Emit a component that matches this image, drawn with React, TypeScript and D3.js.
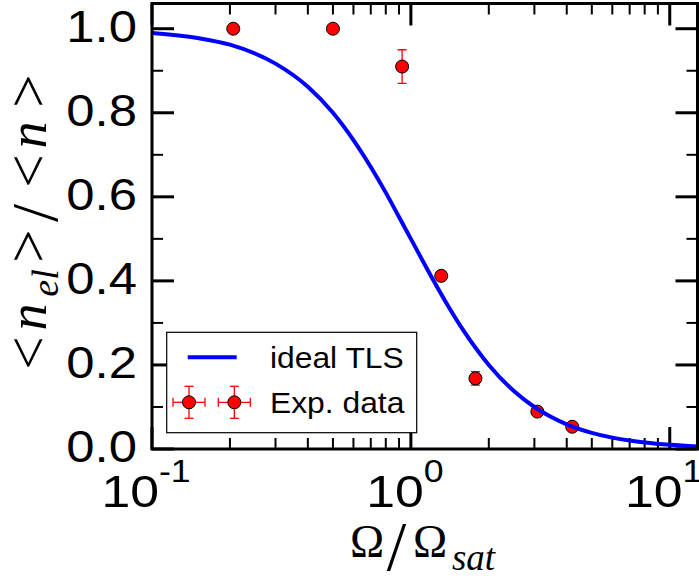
import React from 'react';
import * as d3 from 'd3';

// ideal TLS curve
const tlsX = [0.1, 0.15, 0.2, 0.3, 0.4, 0.5, 0.6, 0.7, 0.8, 0.9, 1.0, 1.2, 1.4, 1.6, 1.8, 2.0, 2.5, 3.0, 3.5, 4.0, 5.0, 6.0, 7.0, 8.0, 10.0, 13.0];
const tlsY = [0.99, 0.978, 0.962, 0.917, 0.862, 0.8, 0.735, 0.671, 0.61, 0.552, 0.5, 0.41, 0.338, 0.281, 0.236, 0.2, 0.138, 0.1, 0.0755, 0.0588, 0.0385, 0.027, 0.02, 0.0154, 0.0099, 0.0059];

// experimental data
const expX = [0.206, 0.5, 0.925, 1.31, 1.776, 3.08, 4.2];
const expY = [1.0, 1.0, 0.91, 0.412, 0.168, 0.089, 0.053];
const expYErr = [0.005, 0.005, 0.04, 0.005, 0.016, 0.005, 0.005];
const expXErr = [0.004, 0.01, 0.02, 0.02, 0.03, 0.05, 0.06];

const yTicks = [0, 0.2, 0.4, 0.6, 0.8, 1.0];
const yTickLabels = ['0.0', '0.2', '0.4', '0.6', '0.8', '1.0'];
const yMinorTicks = [0.1, 0.3, 0.5, 0.7, 0.9];
const xTickExps = [-1, 0, 1];
const xTickLabels = ['-1', '0', '1'];
const legendLabels = ['ideal TLS', 'Exp. data'];

const W = 699;
const H = 576;
const L = 152, R = 697.5, T = 3.5, B = 449;

const SANS = '"Liberation Sans", Arial, Helvetica, sans-serif';
const SERIF = '"Liberation Serif", "Times New Roman", serif';

const BLUE = '#0000ff';
const RED = '#ff0000';

export default function App() {
  const x = d3.scaleLog().domain([0.1, 12.8]).range([L, R]);
  const y = d3.scaleLinear().domain([0, 1.06]).range([B, T]);

  const xMajor = xTickExps.map((e) => Math.pow(10, e));
  const xMinor: number[] = [];
  xTickExps.forEach((e) => {
    for (let k = 2; k <= 9; k++) {
      const v = k * Math.pow(10, e);
      if (v > 0.1 && v < 12.8) xMinor.push(v);
    }
  });

  const line = d3
    .line<number>()
    .x((i) => x(tlsX[i]))
    .y((i) => y(tlsY[i]))
    .curve(d3.curveMonotoneX);
  const curvePath = line(d3.range(tlsX.length)) || '';

  const majorLen = 22;
  const minorLen = 11;

  const ticks: JSX.Element[] = [];
  xMajor.forEach((v, i) => {
    const px = x(v);
    ticks.push(<line key={'xb' + i} x1={px} x2={px} y1={B} y2={B - majorLen} stroke="#000" strokeWidth={3} />);
    ticks.push(<line key={'xt' + i} x1={px} x2={px} y1={T} y2={T + majorLen} stroke="#000" strokeWidth={3} />);
  });
  xMinor.forEach((v, i) => {
    const px = x(v);
    ticks.push(<line key={'xmb' + i} x1={px} x2={px} y1={B} y2={B - minorLen} stroke="#000" strokeWidth={2} />);
    ticks.push(<line key={'xmt' + i} x1={px} x2={px} y1={T} y2={T + minorLen} stroke="#000" strokeWidth={2} />);
  });
  yTicks.forEach((v, i) => {
    const py = y(v);
    ticks.push(<line key={'yl' + i} x1={L} x2={L + majorLen} y1={py} y2={py} stroke="#000" strokeWidth={3} />);
    ticks.push(<line key={'yr' + i} x1={R} x2={R - majorLen} y1={py} y2={py} stroke="#000" strokeWidth={3} />);
  });
  yMinorTicks.forEach((v, i) => {
    const py = y(v);
    ticks.push(<line key={'yml' + i} x1={L} x2={L + minorLen} y1={py} y2={py} stroke="#000" strokeWidth={2} />);
    ticks.push(<line key={'ymr' + i} x1={R} x2={R - minorLen} y1={py} y2={py} stroke="#000" strokeWidth={2} />);
  });

  const cap = 4.5;
  const errorBar = (cx: number, cy: number, x0: number, x1: number, y0: number, y1: number, key: string) => (
    <g key={key} stroke={RED} strokeWidth={1.3} fill="none">
      <line x1={x0} x2={x1} y1={cy} y2={cy} />
      <line x1={x0} x2={x0} y1={cy - cap} y2={cy + cap} />
      <line x1={x1} x2={x1} y1={cy - cap} y2={cy + cap} />
      <line x1={cx} x2={cx} y1={y0} y2={y1} />
      <line x1={cx - cap} x2={cx + cap} y1={y0} y2={y0} />
      <line x1={cx - cap} x2={cx + cap} y1={y1} y2={y1} />
    </g>
  );

  const markerR = 6.5;

  // y-label glyph layout (rotated)
  const yLabelGlyphs = [
    { t: '<', c: 353, b: 47.5, s: 59, it: false, sub: false },
    { t: 'n', c: 317, b: 46, s: 54, it: true, sub: false },
    { t: 'el', c: 283, b: 58, s: 38, it: true, sub: false },
    { t: '>', c: 246, b: 47.5, s: 59, it: false, sub: false },
    { t: '/', c: 213, b: 57, s: 65, it: false, sub: false },
    { t: '<', c: 171, b: 47.5, s: 59, it: false, sub: false },
    { t: 'n', c: 135, b: 46, s: 54, it: true, sub: false },
    { t: '>', c: 91, b: 47.5, s: 59, it: false, sub: false },
  ];

  return (
    <svg
      width={W}
      height={H}
      viewBox={`0 0 ${W} ${H}`}
      style={{ position: 'absolute', left: 0, top: 0, display: 'block', background: '#fff' }}
    >
      <defs>
        <clipPath id="plotClip">
          <rect x={L} y={T} width={R - L} height={B - T} />
        </clipPath>
      </defs>
      <rect x={0} y={0} width={W} height={H} fill="#fff" />

      {ticks}

      {/* error bars */}
      <g clipPath="url(#plotClip)">
        {expX.map((v, i) =>
          errorBar(
            x(v),
            y(expY[i]),
            x(v - expXErr[i]),
            x(v + expXErr[i]),
            y(expY[i] - expYErr[i]),
            y(expY[i] + expYErr[i]),
            'eb' + i
          )
        )}
        {expX.map((v, i) => (
          <circle key={'m' + i} cx={x(v)} cy={y(expY[i])} r={markerR} fill={RED} stroke="#000" strokeWidth={1} />
        ))}
        <path d={curvePath} fill="none" stroke={BLUE} strokeWidth={4} />
      </g>

      {/* frame */}
      <rect x={L} y={T} width={R - L} height={B - T} fill="none" stroke="#000" strokeWidth={3} />

      {/* y tick labels */}
      {yTicks.map((v, i) => (
        <g key={'yl' + i} transform={`translate(137,${y(v) + 13}) scale(1.13,1)`}>
          <text x={0} y={0} textAnchor="end" fontFamily={SANS} fontSize={45} fill="#000">
            {yTickLabels[i]}
          </text>
        </g>
      ))}

      {/* x tick labels */}
      {xMajor.map((v, i) => (
        <g key={'xl' + i} transform={`translate(${x(v) - 6},506.7) scale(1.15,1)`}>
          <text x={0} y={0} textAnchor="middle" fontFamily={SANS} fontSize={45} fill="#000">
            10
            <tspan fontSize={31} dy={-24.7}>
              {xTickLabels[i]}
            </tspan>
          </text>
        </g>
      ))}

      {/* x label */}
      <g fontFamily={SERIF} fill="#000">
        <text x={367} y={556.7} textAnchor="middle" fontSize={46}>Ω</text>
        <text x={396.5} y={570} textAnchor="middle" fontSize={70}>/</text>
        <text x={430} y={556.7} textAnchor="middle" fontSize={46}>Ω</text>
        <text x={473.5} y={570} textAnchor="middle" fontSize={37} fontStyle="italic">sat</text>
      </g>

      {/* y label */}
      <g transform="rotate(-90)" fontFamily={SERIF} fill="#000">
        {yLabelGlyphs.map((g, i) => (
          <text
            key={'yg' + i}
            x={-g.c}
            y={g.b}
            textAnchor="middle"
            fontSize={g.s}
            fontStyle={g.it ? 'italic' : 'normal'}
          >
            {g.t}
          </text>
        ))}
      </g>

      {/* legend */}
      <g>
        <rect x={166.7} y={332.3} width={250} height={100.4} fill="#fff" stroke="#000" strokeWidth={1.2} />
        <line x1={187.7} x2={236.7} y1={357.3} y2={357.3} stroke={BLUE} strokeWidth={4} />
        {[189, 234.3].map((cx, i) => (
          <g key={'lg' + i}>
            {errorBar(cx, 402.3, cx - 16, cx + 16, 402.3 + 16, 402.3 - 16, 'leb' + i)}
            <circle cx={cx} cy={402.3} r={markerR} fill={RED} stroke="#000" strokeWidth={1} />
          </g>
        ))}
        <g transform="translate(270,368.3) scale(1.06,1)">
          <text x={0} y={0} fontFamily={SANS} fontSize={30} fill="#000">{legendLabels[0]}</text>
        </g>
        <g transform="translate(270,413.3) scale(1.06,1)">
          <text x={0} y={0} fontFamily={SANS} fontSize={30} fill="#000">{legendLabels[1]}</text>
        </g>
      </g>
    </svg>
  );
}
